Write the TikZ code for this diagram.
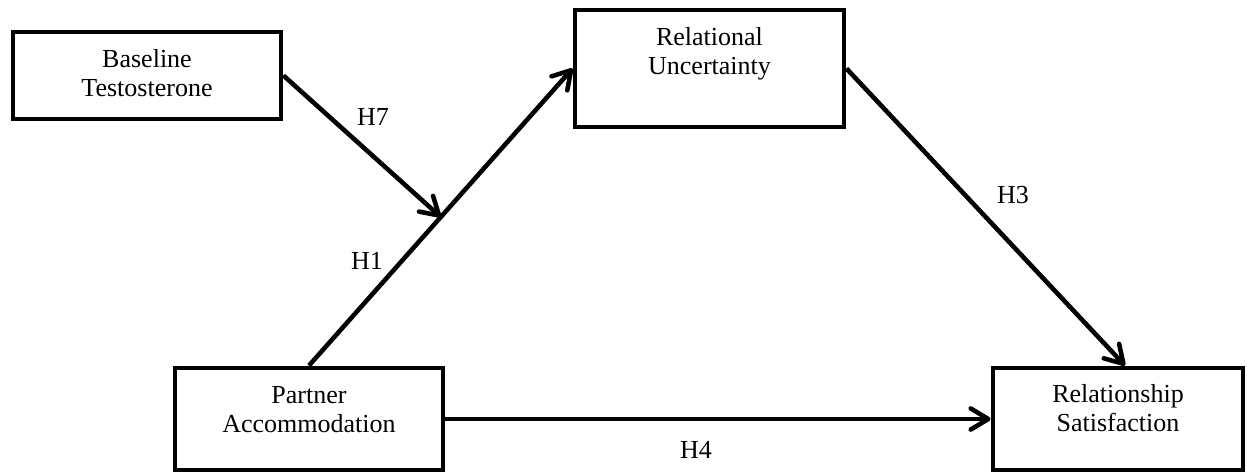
\documentclass[tikz,border=0pt]{standalone}
\usepackage{fontspec}
\setmainfont{Liberation Serif}
\usetikzlibrary{arrows.meta,positioning}

\tikzset{
  box/.style={draw, line width=2.8pt, rectangle, inner sep=0pt},
  txt/.style={inner sep=0pt, align=center, font=\fontsize{14.8}{16.5}\selectfont},
  hyp/.style={inner sep=0pt, font=\fontsize{14.8}{16.5}\selectfont},
  arr/.style={line width=2.6pt, -{Straight Barb[length=10pt,width=12pt,round]}}
}

\begin{document}
\begin{tikzpicture}[x=0.02cm,y=-0.02cm]
\useasboundingbox (0,0) rectangle (1247,474);
% boxes
\node[box, minimum width=5.36cm, minimum height=1.74cm] (base) at (147,75.5) {};
\node[box, minimum width=5.38cm, minimum height=2.34cm] (unc) at (709.5,68.5) {};
\node[box, minimum width=5.36cm, minimum height=2.04cm] (part) at (309,419) {};
\node[box, minimum width=5cm, minimum height=2.04cm] (sat) at (1118,419) {};
\node[txt, below=0.4cm of base.north] (base-t) {Baseline\\Testosterone};
\node[txt, below=0.4cm of unc.north] (unc-t) {Relational\\Uncertainty};
\node[txt, below=0.42cm of part.north] (part-t) {Partner\\Accommodation};
\node[txt, below=0.38cm of sat.north] (sat-t) {Relationship\\Satisfaction};
% paths
\path (part.north) -- coordinate[pos=0.5] (mid) (unc.west);
\draw[arr] (part.north) -- (unc.west);
\draw[arr] (base.east) -- (mid);
\draw[arr] (unc.east) -- ([xshift=0.14cm]sat.north);
\draw[arr] (part.east) -- (sat.west);
% labels
\node[hyp] (h7) at (373,117) {H7};
\node[hyp] (h1) at (367,261) {H1};
\node[hyp] (h3) at (1013,195) {H3};
\node[hyp] (h4) at (696,450) {H4};
\end{tikzpicture}
\end{document}
